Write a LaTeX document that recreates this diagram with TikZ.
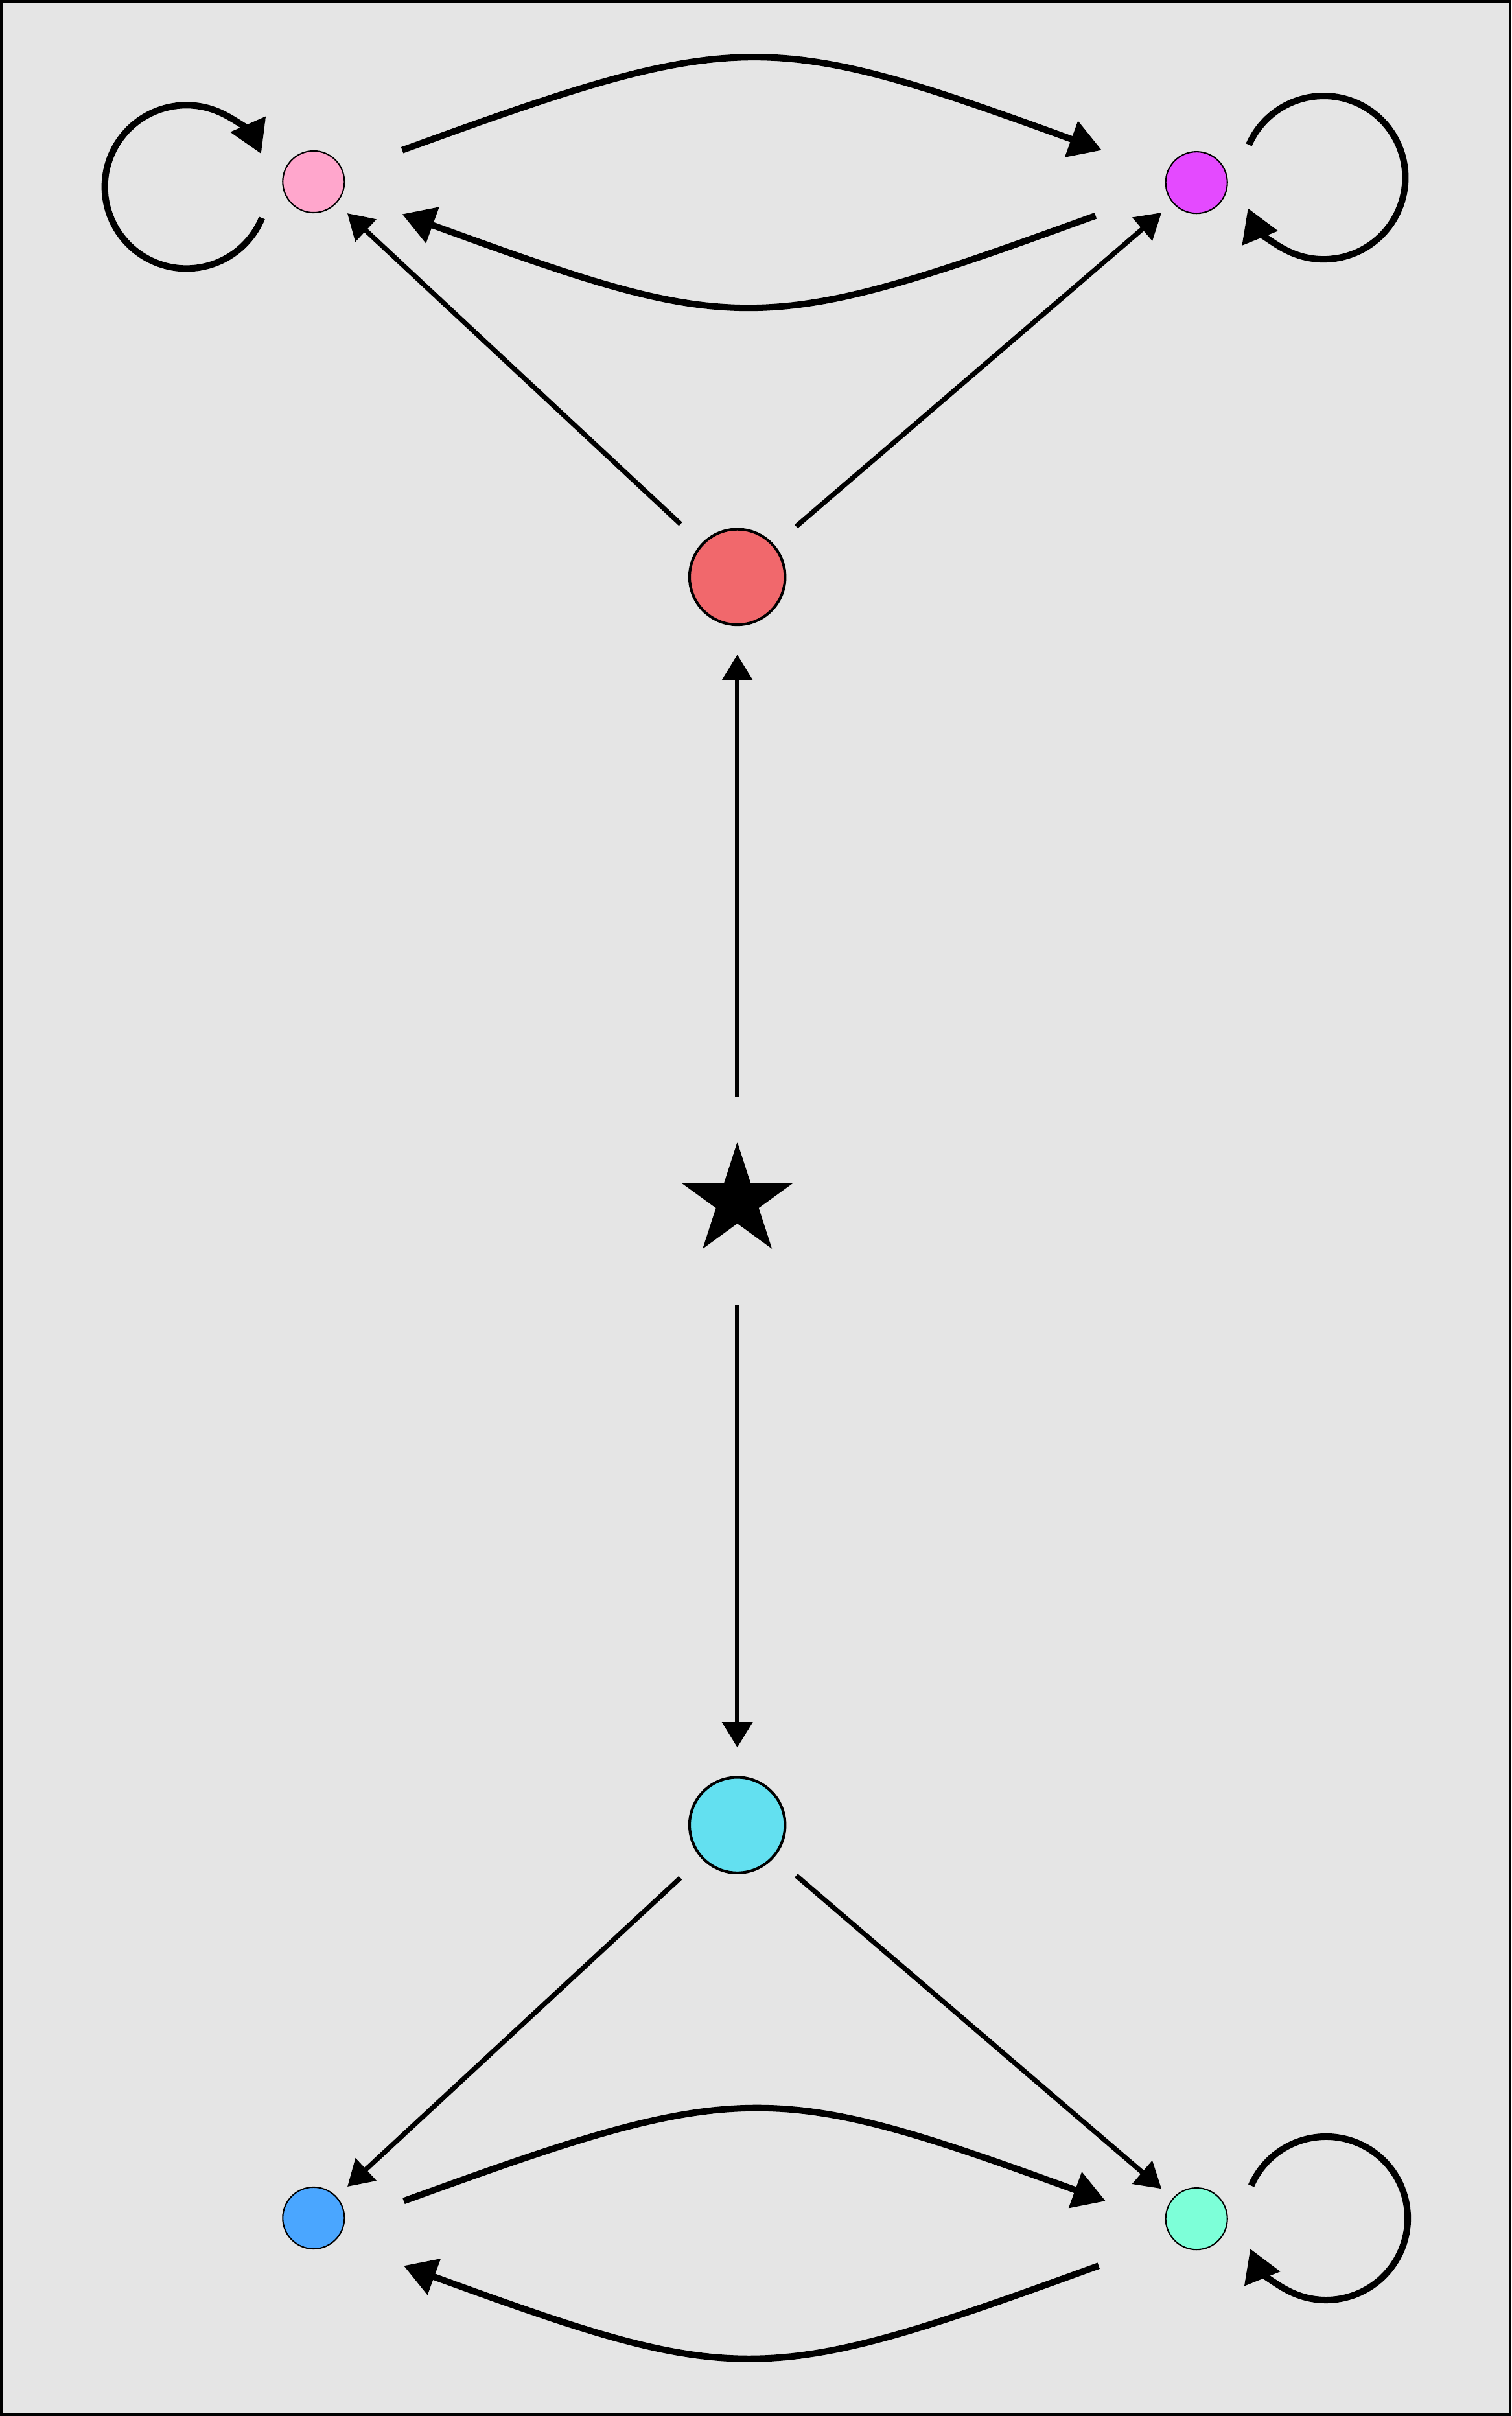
\documentclass[tikz,border=0pt]{standalone}
\usepackage{tikz}
\usetikzlibrary{shapes.geometric}
\usetikzlibrary{arrows.meta}
\usetikzlibrary{calc}

\definecolor{bggray}{HTML}{E5E5E5}
\definecolor{pinkfill}{HTML}{FFA6CC}
\definecolor{magentafill}{HTML}{E44AFF}
\definecolor{redfill}{HTML}{F1686C}
\definecolor{cyanfill}{HTML}{63E0F0}
\definecolor{bluefill}{HTML}{4AA6FF}
\definecolor{aquafill}{HTML}{7DFFD8}

\begin{document}
\begin{tikzpicture}[
        dot/.style={circle, draw, line width=0.5pt, minimum size=0.8cm, inner sep=0pt},
        bigdot/.style={circle, draw, line width=1pt, minimum size=1.24cm, inner sep=0pt},
        starnode/.style={star, star points=5, star point ratio=2.618, fill=black, inner sep=0pt, minimum size=1.53cm},
        link/.style={-{Triangle[length=0.33cm, width=0.385cm]}, line width=1.8pt, shorten <=0.37cm, shorten >=0.19cm},
        bendlink/.style={-{Triangle[length=0.42cm, width=0.48cm]}, line width=2.4pt}]
        \useasboundingbox (0,0) rectangle (19.62,31.36);
        \draw [line width=1.1pt, fill=bggray] (0.02,0.02) rectangle (19.60,31.34);

        \node[dot, fill=pinkfill] (pink) at (4.07,29.00) {};
        \node[dot, fill=magentafill] (magenta) at (15.53,28.99) {};
        \node[bigdot, fill=redfill] (red) at (9.57,23.87) {};
        \node[starnode] (star) at (9.57,15.77) {};
        \node[bigdot, fill=cyanfill] (cyan) at (9.57,7.67) {};
        \node[dot, fill=bluefill] (blue) at (4.07,2.57) {};
        \node[dot, fill=aquafill] (aqua) at (15.53,2.56) {};

        \draw [link, shorten <=1.35cm, shorten >=0.37cm] (star.center) -- (red);
        \draw [link, shorten <=1.35cm, shorten >=0.37cm] (star.center) -- (cyan);
        \draw [link] (red) -- (pink);
        \draw [link] (red) -- (magenta);
        \draw [link] (cyan) -- (blue);
        \draw [link] (cyan) -- (aqua);

        \draw [bendlink] ($(pink)+(1.15,0.41)$) .. controls +(20:4.64) and +(160:4.64) .. ($(magenta)+(-1.23,0.42)$);
        \draw [bendlink] ($(magenta)+(-1.31,-0.43)$) .. controls +(200:4.64) and +(-20:4.64) .. ($(pink)+(1.15,-0.42)$);
        \draw [bendlink] ($(blue)+(1.17,0.22)$) .. controls +(20:4.64) and +(160:4.64) .. ($(aqua)+(-1.18,0.23)$);
        \draw [bendlink] ($(aqua)+(-1.27,-0.61)$) .. controls +(200:4.64) and +(-20:4.64) .. ($(blue)+(1.17,-0.62)$);

        \draw [bendlink] ($(pink)+(-0.67,-0.47)$) arc[start angle=-22.4, end angle=-336.1, radius=1.06cm];
        \draw [bendlink] ($(magenta)+(0.68,0.49)$) arc[start angle=156.3, end angle=-158, radius=1.06cm];
        \draw [bendlink] ($(aqua)+(0.71,0.43)$) arc[start angle=156.4, end angle=-158.1, radius=1.06cm];

    \end{tikzpicture}
\end{document}
